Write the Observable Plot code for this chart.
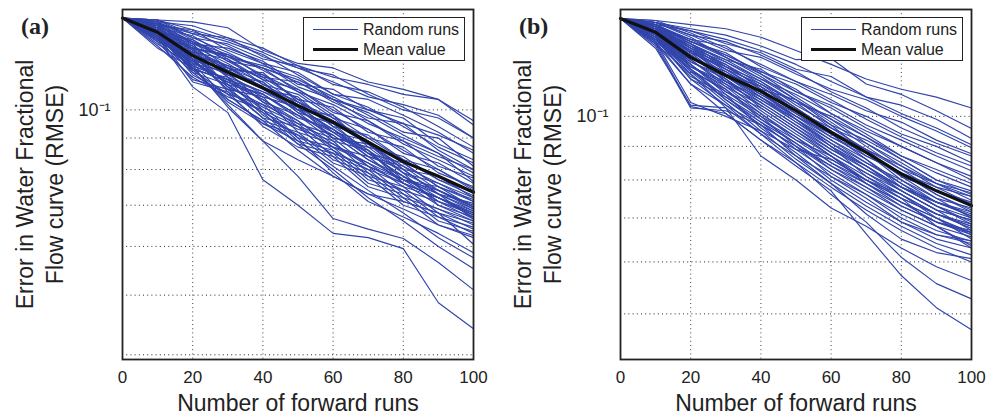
<!DOCTYPE html>
<html>
<head>
<meta charset="utf-8">
<script src="https://cdn.jsdelivr.net/npm/d3@7"></script>
<script src="https://cdn.jsdelivr.net/npm/@observablehq/plot@0.6"></script>
<style>
  html, body { margin: 0; padding: 0; background: #fff; }
  #wrap { position: relative; width: 998px; height: 416px; overflow: hidden; font-family: "Liberation Sans", Arial, Helvetica, sans-serif; }
  .panel { position: absolute; top: 0; width: 498px; height: 416px; }
  .tag { position: absolute; left: 21px; top: 14px; font-family: "Liberation Serif", "Times New Roman", serif; font-weight: bold; font-size: 24px; line-height: 1; color: #222; }
  .legend { position: absolute; left: 303px; top: 17px; width: 160px; height: 42px; border: 1.6px solid #222; background: #fff; box-sizing: content-box; }
  .legend .sw { position: absolute; left: 9px; width: 45px; }
  .legend .lb { position: absolute; left: 59px; font-size: 16px; color: #222; line-height: 1; }
</style>
</head>
<body>
<div id="wrap"></div>
<script>
// ----- data -----
const xs = [0, 10, 20, 30, 40, 50, 60, 70, 80, 90, 100];
const xTicks = [0, 20, 40, 60, 80, 100];
const yGridValues = [0.04, 0.05, 0.06, 0.07, 0.08, 0.09, 0.1];
const yTicks = [0.1];
const yTickLabels = ["10⁻¹"];
const panelTags = ["(a)", "(b)"];
const xLabel = "Number of forward runs";
const yLabel = "Error in Water Fractional\nFlow curve (RMSE)";
const legendLabels = ["Random runs", "Mean value"];

const meanA = [0.141, 0.1337, 0.1225, 0.1151, 0.1086, 0.1016, 0.0955, 0.0886, 0.0824, 0.078, 0.0735];
const meanB = [0.141, 0.1343, 0.123, 0.1154, 0.1092, 0.102, 0.0945, 0.0881, 0.0817, 0.077, 0.0731];

const runsA = [
  [.141,.140,.139,.136,.125,.119,.117,.111,.108,.104,.096],
  [.141,.139,.137,.131,.126,.118,.113,.110,.106,.104,.0945],
  [.141,.138,.133,.131,.122,.117,.114,.106,.100,.097,.090],
  [.141,.140,.131,.128,.121,.118,.110,.107,.101,.094,.087],
  [.141,.137,.135,.125,.119,.115,.106,.104,.098,.092,.085],
  [.141,.139,.128,.126,.120,.110,.108,.100,.097,.088,.083],
  [.141,.136,.132,.122,.118,.113,.104,.099,.092,.090,.081],
  [.141,.138,.126,.123,.113,.111,.103,.097,.095,.086,.080],
  [.141,.134,.130,.120,.117,.107,.102,.095,.090,.085,.079],
  [.141,.137,.124,.121,.112,.108,.099,.096,.088,.083,.078],
  [.141,.135,.129,.117,.114,.104,.101,.092,.089,.081,.0775],
  [.141,.133,.127,.119,.110,.106,.097,.093,.085,.082,.076],
  [.141,.138,.125,.116,.115,.103,.096,.090,.087,.079,.075],
  [.141,.132,.123,.118,.108,.105,.094,.091,.083,.080,.074],
  [.141,.136,.121,.114,.111,.100,.098,.087,.084,.077,.0735],
  [.141,.134,.128,.113,.107,.102,.092,.089,.080,.078,.072],
  [.141,.131,.120,.117,.109,.099,.095,.085,.082,.075,.0715],
  [.141,.135,.118,.112,.105,.101,.090,.088,.079,.076,.071],
  [.141,.133,.122,.110,.106,.097,.093,.084,.081,.074,.070],
  [.141,.130,.119,.115,.103,.098,.089,.086,.077,.075,.0695],
  [.141,.137,.117,.111,.104,.095,.091,.083,.078,.073,.069],
  [.141,.132,.126,.109,.102,.096,.087,.084,.076,.072,.0685],
  [.141,.134,.116,.113,.100,.094,.090,.081,.077,.071,.068],
  [.141,.129,.121,.108,.105,.092,.088,.082,.075,.072,.0675],
  [.141,.136,.115,.110,.101,.095,.086,.080,.076,.070,.067],
  [.141,.131,.124,.107,.099,.093,.089,.079,.074,.071,.0665],
  [.141,.128,.118,.112,.098,.091,.085,.081,.073,.069,.066],
  [.141,.133,.114,.106,.102,.090,.087,.078,.075,.068,.0655],
  [.141,.130,.120,.109,.097,.094,.084,.080,.072,.069,.065],
  [.141,.127,.113,.105,.100,.089,.086,.077,.074,.067,.0645],
  [.141,.135,.119,.104,.096,.092,.083,.079,.071,.068,.064],
  [.141,.129,.112,.108,.099,.088,.085,.076,.073,.066,.0635],
  [.141,.126,.117,.103,.095,.091,.082,.078,.070,.067,.063],
  [.141,.132,.111,.107,.094,.087,.084,.075,.072,.065,.0625],
  [.141,.131,.109,.099,.077,.070,.063,.062,.0595,.0486,.0441],
  [.141,.133,.118,.101,.089,.078,.0666,.064,.0618,.0565,.051],
  [.141,.134,.121,.108,.097,.088,.080,.072,.066,.060,.0552],
  [.141,.132,.116,.106,.095,.089,.081,.074,.068,.062,.0575],
  [.141,.135,.123,.110,.100,.090,.079,.071,.067,.063,.0586],
  [.141,.130,.115,.104,.096,.086,.078,.073,.071,.068,.0605],
  [.141,.137,.127,.115,.108,.100,.092,.085,.078,.072,.068],
  [.141,.134,.124,.114,.106,.098,.091,.083,.077,.073,.0665],
  [.141,.139,.130,.121,.110,.103,.094,.086,.079,.074,.0695],
  [.141,.136,.125,.118,.113,.104,.095,.088,.080,.073,.0705],
  [.141,.132,.121,.116,.109,.101,.093,.085,.078,.071,.0675],
  [.141,.135,.126,.117,.111,.099,.090,.087,.079,.070,.066],
  [.141,.138,.129,.120,.112,.102,.096,.089,.082,.075,.071],
  [.141,.133,.119,.112,.107,.100,.093,.086,.076,.072,.068],
  [.141,.131,.117,.111,.106,.098,.092,.084,.080,.073,.0685],
  [.141,.136,.123,.117,.109,.103,.097,.088,.081,.076,.072],
  [.141,.137,.128,.122,.114,.107,.098,.090,.083,.077,.0725],
  [.141,.139,.131,.124,.116,.108,.100,.093,.086,.080,.0745],
  [.141,.140,.133,.127,.119,.109,.104,.096,.089,.084,.080],
  [.141,.138,.134,.129,.123,.114,.106,.101,.094,.087,.082],
  [.141,.136,.126,.122,.117,.112,.105,.098,.091,.085,.0765],
  [.141,.135,.120,.111,.104,.096,.088,.081,.076,.072,.067],
  [.141,.134,.125,.113,.103,.094,.087,.082,.077,.074,.069],
  [.141,.133,.117,.102,.089,.083,.078,.073,.069,.065,.062],
  [.141,.137,.129,.123,.117,.111,.104,.100,.095,.091,.086],
  [.141,.140,.135,.130,.124,.117,.111,.105,.102,.098,.090]
];

const runsB = [
  [.141,.140,.138,.136,.132,.126,.120,.114,.110,.107,.103],
  [.141,.139,.136,.133,.128,.122,.1225,.112,.108,.102,.0958],
  [.141,.138,.135,.129,.125,.118,.115,.107,.104,.099,.0925],
  [.141,.139,.133,.126,.123,.116,.110,.106,.100,.095,.0896],
  [.141,.137,.131,.128,.119,.113,.108,.102,.098,.092,.0877],
  [.141,.138,.130,.124,.117,.112,.105,.100,.094,.090,.085],
  [.141,.136,.128,.122,.118,.109,.104,.097,.092,.087,.0826],
  [.141,.137,.127,.121,.114,.108,.101,.095,.090,.085,.081],
  [.141,.135,.129,.119,.113,.105,.100,.093,.087,.083,.079],
  [.141,.136,.125,.118,.110,.106,.097,.092,.086,.080,.077],
  [.141,.134,.126,.116,.111,.102,.096,.089,.084,.079,.0755],
  [.141,.135,.123,.117,.108,.101,.093,.088,.081,.077,.074],
  [.141,.133,.124,.113,.107,.099,.092,.085,.080,.075,.0725],
  [.141,.134,.121,.114,.105,.097,.090,.084,.078,.074,.071],
  [.141,.132,.122,.111,.104,.096,.088,.082,.077,.072,.0695],
  [.141,.133,.119,.112,.102,.094,.087,.080,.075,.071,.068],
  [.141,.131,.120,.109,.101,.092,.085,.079,.074,.069,.067],
  [.141,.132,.117,.110,.099,.091,.083,.077,.072,.068,.0655],
  [.141,.130,.118,.107,.098,.089,.082,.076,.071,.067,.0645],
  [.141,.131,.115,.108,.096,.088,.080,.074,.069,.065,.063],
  [.141,.129,.116,.105,.095,.086,.079,.073,.068,.064,.0615],
  [.141,.128,.103,.102,.097,.090,.083,.078,.073,.069,.066],
  [.141,.127,.104,.103,.094,.087,.081,.076,.070,.066,.064],
  [.141,.129,.1035,.101,.092,.085,.078,.072,.067,.063,.060],
  [.141,.130,.105,.100,.095,.089,.086,.080,.076,.071,.0685],
  [.141,.129,.112,.101,.092,.084,.077,.0662,.0572,.0511,.0473],
  [.141,.131,.114,.104,.094,.085,.076,.069,.061,.0556,.0527],
  [.141,.132,.116,.103,.087,.080,.0725,.068,.063,.059,.0562],
  [.141,.133,.118,.106,.097,.087,.079,.071,.065,.062,.0607],
  [.141,.134,.120,.108,.100,.090,.081,.075,.069,.066,.0646],
  [.141,.137,.128,.118,.112,.103,.095,.089,.081,.075,.070],
  [.141,.136,.126,.120,.110,.101,.094,.086,.079,.073,.0685],
  [.141,.138,.129,.121,.113,.104,.097,.088,.080,.074,.0715],
  [.141,.135,.124,.115,.106,.099,.091,.085,.079,.074,.0705],
  [.141,.134,.122,.112,.105,.097,.089,.083,.077,.072,.067],
  [.141,.136,.127,.117,.109,.100,.092,.086,.078,.073,.069],
  [.141,.139,.132,.123,.115,.106,.098,.090,.083,.077,.0735],
  [.141,.137,.130,.125,.116,.107,.099,.091,.085,.079,.0745],
  [.141,.133,.121,.115,.108,.100,.093,.087,.082,.076,.072],
  [.141,.132,.119,.113,.106,.098,.090,.081,.076,.070,.066],
  [.141,.135,.125,.119,.111,.103,.095,.087,.082,.078,.0735],
  [.141,.136,.128,.120,.112,.105,.096,.091,.084,.078,.0755],
  [.141,.138,.131,.124,.117,.110,.101,.094,.087,.082,.078],
  [.141,.140,.134,.127,.120,.113,.106,.099,.093,.088,.084],
  [.141,.139,.133,.130,.124,.117,.109,.103,.096,.091,.087],
  [.141,.137,.125,.114,.103,.095,.088,.082,.076,.071,.0675],
  [.141,.134,.120,.110,.100,.093,.086,.080,.074,.070,.065],
  [.141,.133,.117,.106,.098,.091,.084,.078,.072,.068,.063],
  [.141,.131,.118,.109,.103,.095,.087,.079,.073,.069,.0665],
  [.141,.136,.123,.116,.107,.098,.091,.084,.077,.072,.0695],
  [.141,.135,.126,.118,.109,.099,.090,.083,.078,.073,.070],
  [.141,.138,.127,.119,.111,.102,.094,.088,.082,.076,.0715],
  [.141,.137,.129,.122,.114,.106,.099,.093,.086,.080,.076],
  [.141,.139,.135,.131,.126,.120,.113,.107,.101,.096,.0905],
  [.141,.136,.124,.113,.104,.096,.089,.084,.078,.074,.0705],
  [.141,.134,.119,.111,.101,.093,.085,.080,.075,.071,.068],
  [.141,.132,.114,.107,.099,.092,.087,.081,.075,.068,.0635],
  [.141,.130,.112,.104,.097,.090,.084,.079,.074,.070,.0665],
  [.141,.137,.126,.115,.107,.100,.094,.089,.083,.079,.0765],
  [.141,.138,.130,.123,.116,.109,.103,.096,.090,.085,.080]
];

const yDomainA = [0.0393, 0.1456];
const yDomainB = [0.0426, 0.1455];

// ----- drawing -----
const BLUE = "#3144ab";
const FONT = "'Liberation Sans', Arial, Helvetica, sans-serif";

function makePanel(runs, mean, yDomain) {
  const runData = runs.flatMap((r, i) => r.map((v, j) => ({run: i, x: xs[j], y: v})));
  const meanData = mean.map((v, j) => ({x: xs[j], y: v}));
  const grid = yGridValues.filter(v => v >= yDomain[0] && v <= yDomain[1]);
  return Plot.plot({
    width: 498,
    height: 416,
    marginLeft: 122,
    marginRight: 25,
    marginTop: 9,
    marginBottom: 57,
    style: {fontFamily: FONT, color: "#222", background: "transparent", overflow: "visible"},
    x: {domain: [0, 100]},
    y: {type: "log", domain: yDomain},
    marks: [
      Plot.gridX({ticks: xTicks.slice(1, -1), stroke: "#000", strokeOpacity: 0.75, strokeDasharray: "1,3.2"}),
      Plot.gridY({ticks: grid, stroke: "#000", strokeOpacity: 0.85, strokeDasharray: "1,3.2"}),
      Plot.line(runData, {x: "x", y: "y", z: "run", stroke: BLUE, strokeWidth: 1.15}),
      Plot.line(meanData, {x: "x", y: "y", stroke: "#111", strokeWidth: 3.2}),
      Plot.frame({stroke: "#222", strokeWidth: 1.8}),
      Plot.axisX({ticks: xTicks, tickSize: 0, tickPadding: 11, fontSize: 17, label: null}),
      Plot.axisY({ticks: yTicks, tickFormat: (d) => yTickLabels[yTicks.indexOf(d)], tickSize: 0, tickPadding: 12, fontSize: 18, label: null}),
      Plot.text([xLabel], {text: d => d, frameAnchor: "bottom", dy: 44, fontSize: 23, textAnchor: "middle", lineAnchor: "middle"}),
      Plot.text([yLabel], {text: d => d, frameAnchor: "left", dx: -84, rotate: -90, fontSize: 23, lineHeight: 1.3, textAnchor: "middle", lineAnchor: "middle"})
    ]
  });
}

const wrap = document.getElementById("wrap");
[[runsA, meanA, yDomainA], [runsB, meanB, yDomainB]].forEach(([runs, mean, dom], k) => {
  const div = document.createElement("div");
  div.className = "panel";
  div.style.left = (k * 498) + "px";
  div.appendChild(makePanel(runs, mean, dom));

  const tag = document.createElement("div");
  tag.className = "tag";
  tag.textContent = panelTags[k];
  div.appendChild(tag);

  const lg = document.createElement("div");
  lg.className = "legend";
  const sw1 = document.createElement("div");
  sw1.className = "sw"; sw1.style.top = "11px"; sw1.style.borderTop = "1px solid " + BLUE;
  const lb1 = document.createElement("div");
  lb1.className = "lb"; lb1.style.top = "4px"; lb1.textContent = legendLabels[0];
  const sw2 = document.createElement("div");
  sw2.className = "sw"; sw2.style.top = "30px"; sw2.style.borderTop = "3px solid #111";
  const lb2 = document.createElement("div");
  lb2.className = "lb"; lb2.style.top = "24px"; lb2.textContent = legendLabels[1];
  lg.append(sw1, lb1, sw2, lb2);
  div.appendChild(lg);

  wrap.appendChild(div);
});
</script>
</body>
</html>
